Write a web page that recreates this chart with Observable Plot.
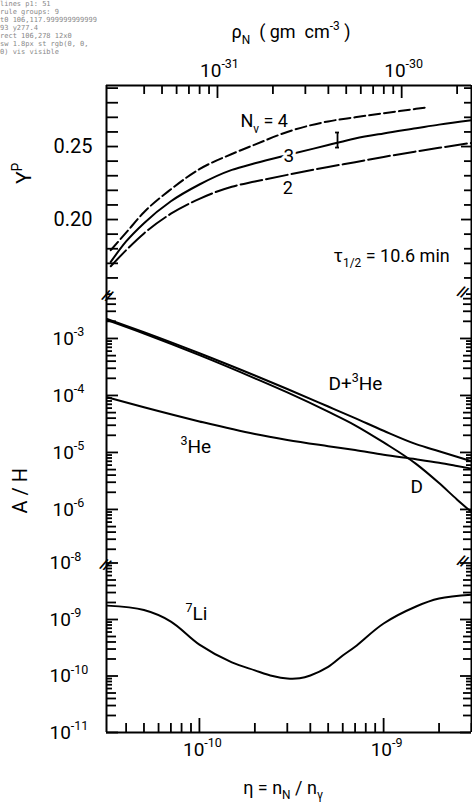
<!DOCTYPE html>
<html>
<head>
<meta charset="utf-8">
<script src="https://cdn.jsdelivr.net/npm/d3@7"></script>
<script src="https://cdn.jsdelivr.net/npm/@observablehq/plot@0.6"></script>
<style>
  html, body { margin: 0; padding: 0; background: #fff; }
  #chart { width: 472px; }
  #chart > svg { display: block; }
  #dbg { position: absolute; left: 0; top: 0; width: 100px; font: 7px monospace; line-height: 8px; white-space: pre-wrap; word-break: break-all; color: #888; }
</style>
</head>
<body>
<div id="chart"></div>
<div id="dbg"></div>
<script>
// ---------------- data ----------------
// helium mass fraction Yp vs eta, for N_nu = 2, 3, 4
const etaYp   = [3.3e-11, 4e-11, 5e-11, 7e-11, 1e-10, 1.5e-10, 2e-10, 3e-10, 5e-10, 7e-10, 1e-9, 1.5e-9, 2e-9, 3e-9];
const ypN3    = [0.171, 0.185, 0.1975, 0.2125, 0.224, 0.234, 0.2385, 0.2442, 0.251, 0.2555, 0.259, 0.2625, 0.265, 0.268];
const ypN2    = [0.168, 0.179, 0.1905, 0.204, 0.2142, 0.2225, 0.226, 0.2306, 0.236, 0.2393, 0.2429, 0.2466, 0.2491, 0.2525];
const etaYpN4 = [3.3e-11, 4e-11, 5e-11, 7e-11, 1e-10, 1.5e-10, 2e-10, 3e-10, 5e-10, 7e-10, 1e-9, 1.5e-9, 1.75e-9];
const ypN4    = [0.179, 0.191, 0.205, 0.2207, 0.2345, 0.2449, 0.2513, 0.260, 0.2672, 0.270, 0.2728, 0.2758, 0.277];
// error bar on the N_nu = 3 curve
const etaErr  = [5.62e-10];
const ypErrLo = [0.2493];
const ypErrHi = [0.2596];

// abundances A/H vs eta
const etaAb    = [3.15e-11, 5e-11, 1e-10, 2e-10, 3e-10, 5e-10, 7e-10, 1e-9, 1.5e-9, 2e-9, 2.5e-9, 3e-9];
const dPlusHe3 = [2.2e-3, 1.29e-3, 5.5e-4, 2.24e-4, 1.3e-4, 6.4e-5, 4.0e-5, 2.4e-5, 1.4e-5, 1.05e-5, 8.4e-6, 7.0e-6];
const deut     = [2.1e-3, 1.22e-3, 5.1e-4, 2.0e-4, 1.13e-4, 5.2e-5, 3.0e-5, 1.5e-5, 6.3e-6, 2.9e-6, 1.5e-6, 9.0e-7];
const he3      = [9.3e-5, 6.2e-5, 3.5e-5, 2.1e-5, 1.66e-5, 1.29e-5, 1.1e-5, 9.1e-6, 7.6e-6, 6.6e-6, 5.8e-6, 5.2e-6];

const etaLi = [3.15e-11, 5e-11, 7e-11, 1e-10, 1.5e-10, 2e-10, 2.5e-10, 3e-10, 3.5e-10, 4e-10, 5e-10, 6e-10, 7e-10, 1e-9, 1.5e-9, 2e-9, 3e-9];
const li7   = [1.76e-9, 1.47e-9, 9.2e-10, 3.6e-10, 1.74e-10, 1.26e-10, 1.0e-10, 9.0e-11, 9.1e-11, 1.02e-10, 1.45e-10, 2.3e-10, 3.3e-10, 8.5e-10, 1.7e-9, 2.35e-9, 2.75e-9];

// axes: tick values and labels
const RHO_PER_ETA = 7.98e-22;          // rho_N (g cm^-3) per unit eta
const rhoTicks  = [4e-32, 5e-32, 6e-32, 7e-32, 8e-32, 9e-32, 1e-31, 2e-31, 3e-31, 4e-31, 5e-31, 6e-31, 7e-31, 8e-31, 9e-31, 1e-30, 2e-30];
const rhoLabels = [1e-31, 1e-30];
const etaLabels = [1e-10, 1e-9];
const ypTicks   = [0.16, 0.17, 0.18, 0.19, 0.20, 0.21, 0.22, 0.23, 0.24, 0.25, 0.26, 0.27, 0.28, 0.29];
const ypLabels  = [0.20, 0.25];
const abLabels  = [1e-3, 1e-4, 1e-5, 1e-6];
const liLabels  = [1e-8, 1e-9, 1e-10, 1e-11];

// in-plot annotations (data coordinates)
const ypNotes = [
  {eta: 1.67e-10, y: 0.2671, text: "N_{ν} = 4"},
  {eta: 2.83e-10, y: 0.2216, text: "2"},
  {eta: 5.35e-10, y: 0.1749, text: "τ_{1/2} = 10.6 min"}
];
const ypInline = [{eta: 2.86e-10, y: 0.2438, text: "3"}];
const abNotes = [
  {eta: 5.02e-10, y: 1.58e-4, text: "D+^{3}He"},
  {eta: 7.89e-11, y: 1.245e-5, text: "^{3}He"},
  {eta: 1.40e-9, y: 2.48e-6, text: "D"}
];
const liNotes = [{eta: 8.40e-11, y: 1.24e-9, text: "^{7}Li"}];

const dbg = [];
try {
// ---------------- layout ----------------
const W = 472, ML = 106, MR = 1;
const X_DOMAIN = [3.13e-11, 3.0e-9];
const FONT = "Roboto, 'Noto Sans', sans-serif";
const LW = 2, FW = 2, TW = 1.8;
const P1H = 290, P1T = 85;
const P2H = 270;
const P3H = 249, P3B = 77;
const ypDomain = [0.1514, 0.2918];
const abDomain = [1.27e-7, 6.95e-3];
const liDomain = [1e-11, 1.107e-8];
const mkStyle = () => ({fontFamily: FONT, fontSize: "18px", background: "transparent", color: "#000", overflow: "visible"});

// pixel mirrors of the plot scales, used only to express tick lengths in pixels
const xPix  = d3.scaleLog().domain(X_DOMAIN).range([ML, W - MR]);
const y1Pix = d3.scaleLinear().domain(ypDomain).range([P1H, P1T]);
const y3Pix = d3.scaleLog().domain(liDomain).range([P3H - P3B, 0]);

const pow10 = d => `10^{-${Math.round(-Math.log10(d))}}`;
const mant = v => Math.round(v / Math.pow(10, Math.floor(Math.log10(v) + 1e-9)));
const rows = (xs, ys) => xs.map((x, i) => ({eta: x, v: ys[i]}));

const yTickMarks = (values, lenFn, side) =>
  Array.from(d3.group(values, lenFn), ([len, vals]) => Plot.ruleY(vals, {
    y: d => d, strokeWidth: TW,
    x1: () => side === "left" ? X_DOMAIN[0] : xPix.invert(W - MR - len),
    x2: () => side === "left" ? xPix.invert(ML + len) : X_DOMAIN[1]
  }));
const xTickMarks = (values, lenFn, yFrom, yTo, xf = d => d) =>
  Array.from(d3.group(values, lenFn), ([len, vals]) => Plot.ruleX(vals, {
    x: xf, strokeWidth: TW, y1: () => yFrom, y2: () => yTo(len)
  }));
const logLenL = v => mant(v) === 1 ? 12 : (mant(v) <= 5 ? 10 : 6);
const logLenR = v => mant(v) === 1 ? 11 : (mant(v) <= 5 ? 8 : 5);
const breakMarks = (dx, dy) => [
  Plot.text(["//"], {frameAnchor: "top-left", rotate: 22, fontSize: 15, dx, dy, fontWeight: "bold"}),
  Plot.text(["//"], {frameAnchor: "top-right", rotate: 22, fontSize: 15, dx: -2, dy, fontWeight: "bold"})
];
const panel = (h, mt, mb, yScale, marks) => Plot.plot({
  width: W, height: h, marginLeft: ML, marginRight: MR, marginTop: mt, marginBottom: mb,
  style: mkStyle(),
  x: {type: "log", domain: X_DOMAIN, axis: null},
  y: {...yScale, axis: null},
  marks
});

// ---------------- panel 1 : Yp ----------------
const p1 = panel(P1H, P1T, 0, {domain: ypDomain}, [
  Plot.ruleX(X_DOMAIN, {strokeWidth: FW}),
  Plot.ruleY([ypDomain[1]], {strokeWidth: FW}),
  ...yTickMarks(ypTicks, () => 12, "left"),
  ...yTickMarks(ypTicks, v => (ypLabels.some(l => Math.abs(l - v) < 1e-6) ? 10 : 7), "right"),
  ...xTickMarks(rhoTicks, v => (mant(v) === 1 ? 13 : 9), ypDomain[1], len => y1Pix.invert(P1T + len), d => d / RHO_PER_ETA),
  Plot.text(rhoLabels, {x: d => d / RHO_PER_ETA, frameAnchor: "top", dy: -22, dx: 2, text: pow10, fontSize: 19}),
  Plot.text(ypLabels, {y: d => d, frameAnchor: "left", dx: -53, textAnchor: "start", text: d => d.toFixed(2), fontSize: 20}),
  Plot.text(["Y^{P}"], {frameAnchor: "left", dx: -82, dy: -4, rotate: -90, fontSize: 21}),
  Plot.text(["ρ_{N}\u00a0\u00a0(\u00a0gm\u00a0\u00a0cm^{-3}\u00a0)"], {frameAnchor: "top", dx: 2, dy: -60, fontSize: 18}),
  Plot.line(rows(etaYpN4, ypN4), {x: "eta", y: "v", stroke: "#000", strokeWidth: LW, strokeDasharray: "11,4", curve: "monotone-x"}),
  Plot.line(rows(etaYp, ypN3), {x: "eta", y: "v", stroke: "#000", strokeWidth: LW, curve: "monotone-x"}),
  Plot.line(rows(etaYp, ypN2), {x: "eta", y: "v", stroke: "#000", strokeWidth: LW, strokeDasharray: "22,4", curve: "monotone-x"}),
  Plot.ruleX(etaErr.map((e, i) => ({eta: e, lo: ypErrLo[i], hi: ypErrHi[i]})), {x: "eta", y1: "lo", y2: "hi", strokeWidth: 1.8}),
  Plot.ruleY(etaErr.flatMap((e, i) => [{eta: e, v: ypErrLo[i]}, {eta: e, v: ypErrHi[i]}]), {
    y: "v", x1: d => d.eta / 1.025, x2: d => d.eta * 1.025, strokeWidth: 1.8
  }),
  Plot.text(ypInline, {x: "eta", y: "y", text: "text", textAnchor: "start", fontSize: 19, stroke: "white", strokeWidth: 6, paintOrder: "stroke", fill: "#000"}),
  Plot.text(ypNotes, {x: "eta", y: "y", text: "text", textAnchor: "start", fontSize: 18})
]);

// ---------------- panel 2 : D, 3He ----------------
const abTicks = d3.scaleLog().domain(abDomain).ticks();
const p2 = panel(P2H, 0, 0, {type: "log", domain: abDomain}, [
  Plot.ruleX(X_DOMAIN, {strokeWidth: FW}),
  ...yTickMarks(abTicks, logLenL, "left"),
  ...yTickMarks(abTicks, logLenR, "right"),
  Plot.text(abLabels, {y: d => d, frameAnchor: "left", dx: -54, textAnchor: "start", text: pow10, fontSize: 19}),
  Plot.text(["A / H"], {frameAnchor: "left", dx: -86, dy: 88, rotate: -90, fontSize: 20}),
  Plot.line(rows(etaAb, dPlusHe3), {x: "eta", y: "v", stroke: "#000", strokeWidth: LW, curve: "monotone-x"}),
  Plot.line(rows(etaAb, deut), {x: "eta", y: "v", stroke: "#000", strokeWidth: LW, curve: "monotone-x"}),
  Plot.line(rows(etaAb, he3), {x: "eta", y: "v", stroke: "#000", strokeWidth: LW, curve: "monotone-x"}),
  Plot.text(abNotes, {x: "eta", y: "y", text: "text", textAnchor: "start", fontSize: 19}),
  ...breakMarks(-1, -2)
]);

// ---------------- panel 3 : 7Li ----------------
const liTicks = d3.scaleLog().domain(liDomain).ticks();
const etaTicks = d3.scaleLog().domain(X_DOMAIN).ticks();
const p3 = panel(P3H, 0, P3B, {type: "log", domain: liDomain}, [
  Plot.ruleX(X_DOMAIN, {strokeWidth: FW}),
  Plot.ruleY([liDomain[0]], {strokeWidth: FW}),
  ...yTickMarks(liTicks, logLenL, "left"),
  ...yTickMarks(liTicks, logLenR, "right"),
  ...xTickMarks(etaTicks, v => (mant(v) === 1 ? 14 : 9), liDomain[0], len => y3Pix.invert(P3H - P3B - len)),
  Plot.text(liLabels, {y: d => d, frameAnchor: "left", dx: -57, textAnchor: "start", text: pow10, fontSize: 19}),
  Plot.text(etaLabels, {x: d => d, frameAnchor: "bottom", dy: 23, dx: 3, text: pow10, fontSize: 19}),
  Plot.text(["η = n_{N} / n_{γ}"], {frameAnchor: "bottom", dx: -6, dy: 61, fontSize: 18}),
  Plot.line(rows(etaLi, li7), {x: "eta", y: "v", stroke: "#000", strokeWidth: LW, curve: "catmull-rom"}),
  Plot.text(liNotes, {x: "eta", y: "y", text: "text", textAnchor: "start", fontSize: 19}),
  ...breakMarks(-3, -3)
]);

// ---------------- assemble (normal flow, stacked) ----------------
const chart = document.getElementById("chart");
[p1, p2, p3].forEach(svg => chart.appendChild(svg));

// turn ^{..} and _{..} into raised / lowered tspans
const richify = svg => {
  const NS = "http://www.w3.org/2000/svg";
  svg.querySelectorAll("text").forEach(t => {
    const s = t.textContent;
    if (!/[\^_]\{/.test(s)) return;
    const fs = parseFloat(t.closest("[font-size]")?.getAttribute("font-size")) || 18;
    const parts = [];
    const re = /([\^_])\{([^}]*)\}/g;
    let last = 0, m;
    while ((m = re.exec(s))) {
      if (m.index > last) parts.push({text: s.slice(last, m.index), mode: 0});
      parts.push({text: m[2], mode: m[1] === "^" ? 1 : -1});
      last = re.lastIndex;
    }
    if (last < s.length) parts.push({text: s.slice(last), mode: 0});
    while (t.firstChild) t.removeChild(t.firstChild);
    let cur = 0;
    for (const p of parts) {
      const ts = document.createElementNS(NS, "tspan");
      const target = p.mode === 1 ? -0.45 * fs : p.mode === -1 ? 0.3 * fs : 0;
      if (target !== cur) ts.setAttribute("dy", (target - cur).toFixed(2));
      cur = target;
      if (p.mode) ts.setAttribute("font-size", (0.66 * fs).toFixed(1));
      ts.textContent = p.text;
      t.appendChild(ts);
    }
  });
};
[p1, p2, p3].forEach(richify);

// diagnostics
const ln = p1.querySelectorAll("line");
dbg.push("lines p1: " + ln.length);
const g3 = p1.querySelectorAll('g[aria-label="rule"]');
dbg.push("rule groups: " + g3.length);
if (g3[2]) {
  const l0 = g3[2].querySelector("line");
  if (l0) {
    const r = l0.getBoundingClientRect();
    dbg.push("t0 " + l0.getAttribute("x1") + "," + l0.getAttribute("x2") + " y" + (+l0.getAttribute("y1")).toFixed(1));
    dbg.push("rect " + r.x.toFixed(0) + "," + r.y.toFixed(0) + " " + r.width.toFixed(0) + "x" + r.height.toFixed(0));
    dbg.push("sw " + getComputedStyle(l0).strokeWidth + " st " + getComputedStyle(l0).stroke + " vis " + getComputedStyle(l0).visibility);
  } else dbg.push("g2 no line: " + g3[2].outerHTML.slice(0, 60));
}
} catch (e) {
  dbg.push("ERR " + e.message);
}
document.getElementById("dbg").textContent = dbg.join("\n");
</script>
</body>
</html>
